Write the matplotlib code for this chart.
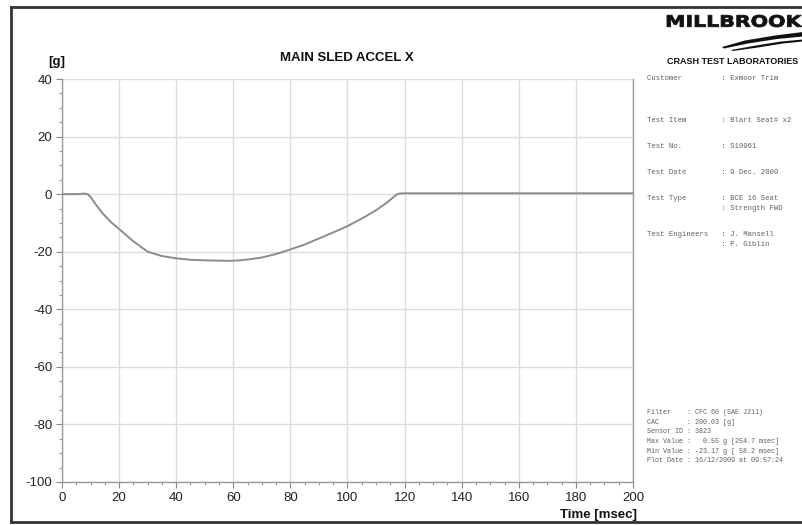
import matplotlib.pyplot as plt
from matplotlib.ticker import MultipleLocator
from matplotlib.textpath import TextPath
from matplotlib.patches import PathPatch, Polygon
from matplotlib.font_manager import FontProperties
from matplotlib.transforms import Affine2D
from matplotlib.lines import Line2D

plt.rcParams['font.family'] = ['Liberation Sans', 'DejaVu Sans']
plt.rcParams['axes.unicode_minus'] = False

# Curva de aceleracao do treno
tempo = [0, 5, 8, 9, 10, 12, 14, 17, 20, 25, 30, 35, 40, 45, 50, 55, 58.2,
         62, 66, 70, 75, 80, 85, 90, 95, 100, 105, 110, 114, 117, 118, 120,
         140, 160, 180, 200]
aceleracao = [0, 0, 0.2, 0, -1, -3.8, -6.4, -9.6, -12.1, -16.4, -20.0, -21.5,
              -22.3, -22.8, -23.0, -23.1, -23.17, -23.0, -22.6, -22.0, -20.8,
              -19.2, -17.5, -15.4, -13.3, -11.1, -8.5, -5.6, -2.8, -0.3, 0.2,
              0.3, 0.3, 0.3, 0.3, 0.3]

x_ticks = [0, 20, 40, 60, 80, 100, 120, 140, 160, 180, 200]
y_ticks = [40, 20, 0, -20, -40, -60, -80, -100]

info_topo = [
    ("Customer         : Exmoor Trim", 79),
    ("Test Item        : Blart Seat# x2", 121),
    ("Test No.         : S10961", 146),
    ("Test Date        : 9 Dec. 2009", 172),
    ("Test Type        : BCE 16 Seat", 198),
    ("                 : Strength FWD", 208),
    ("Test Engineers   : J. Mansell", 234),
    ("                 : P. Giblin", 244),
]

info_baixo = [
    "Filter    : CFC 60 (SAE J211)",
    "CAC       : 200.03 [g]",
    "Sensor ID : 3823",
    "Max Value :   0.55 g [254.7 msec]",
    "Min Value : -23.17 g [ 58.2 msec]",
    "Plot Date : 16/12/2009 at 09:57:24",
]

W, H = 803, 525


def px(x, y):
    # pixel (origem no topo) -> fracao da figura
    return x / W, 1 - y / H


fig = plt.figure(figsize=(W / 100, H / 100), dpi=100)
fig.patch.set_facecolor('white')

ax = fig.add_axes([62 / W, 1 - 482 / H, (633 - 62) / W, (482 - 79) / H])
ax.plot(tempo, aceleracao, color='#8c8c8c', lw=1.4, zorder=3)
ax.set_xlim(0, 200)
ax.set_ylim(-100, 40)
ax.set_xticks(x_ticks)
ax.set_yticks(y_ticks)
ax.xaxis.set_minor_locator(MultipleLocator(5))
ax.yaxis.set_minor_locator(MultipleLocator(5))
ax.grid(True, which='major', color='#dcdcdc', lw=1.0)
ax.tick_params(which='major', direction='out', length=4, width=0.8,
               color='#888888', labelsize=9.5, labelcolor='#222222', pad=3)
ax.tick_params(which='minor', direction='out', length=2.5, width=0.8,
               color='#999999')
ax.spines['top'].set_visible(False)
for lado in ['left', 'bottom', 'right']:
    ax.spines[lado].set_color('#999999')
    ax.spines[lado].set_linewidth(1.0)

fig.text(*px(347, 58), "MAIN SLED ACCEL X", ha='center', va='center',
         fontsize=9.5, fontweight='bold', color='#111111')
fig.text(*px(57, 62), "[g]", ha='center', va='center',
         fontsize=9.5, fontweight='bold', color='#111111')
fig.text(*px(637, 515), "Time [msec]", ha='right', va='center',
         fontsize=9.5, fontweight='bold', color='#111111')

# Moldura
for (xa, ya), (xb, yb) in [((11, 7), (803, 7)), ((11, 7), (11, 522)),
                           ((11, 522), (803, 522))]:
    x1, y1 = px(xa, ya)
    x2, y2 = px(xb, yb)
    fig.add_artist(Line2D([x1, x2], [y1, y2], transform=fig.transFigure,
                          color='#333333', lw=2.0))

# Logotipo
tp = TextPath((0, 0), "MILLBROOK", prop=FontProperties(family='DejaVu Sans',
                                                       weight='bold'))
bb = tp.get_extents()
x0, y0 = px(667, 27)
x1, y1 = px(802, 15)
trans = Affine2D().translate(-bb.x0, -bb.y0).scale(
    (x1 - x0) / bb.width, (y1 - y0) / bb.height).translate(x0, y0)
fig.add_artist(PathPatch(trans.transform_path(tp), transform=fig.transFigure,
                         facecolor='#111111', edgecolor='#111111', lw=0.6))

faixa1 = [(722, 47), (745, 40.5), (775, 35.5), (803, 32), (803, 36.5),
          (777, 39), (748, 43.5), (724, 48.5)]
faixa2 = [(731, 50), (756, 45.5), (781, 41.5), (803, 39.5), (803, 41.5),
          (783, 43.5), (758, 47.5), (733, 51)]
for faixa in [faixa1, faixa2]:
    fig.add_artist(Polygon([px(a, b) for a, b in faixa], closed=True,
                           transform=fig.transFigure, facecolor='#111111',
                           edgecolor='none'))

fig.text(*px(733, 62), "CRASH TEST LABORATORIES", ha='center', va='center',
         fontsize=6.5, fontweight='bold', color='#111111')

for linha, y in info_topo:
    fig.text(*px(647, y), linha, ha='left', va='center', fontsize=5.2,
             family='Liberation Mono', color='#606060')

for i, linha in enumerate(info_baixo):
    fig.text(*px(647, 412.5 + i * 9.7), linha, ha='left', va='center',
             fontsize=4.9, family='Liberation Mono', color='#606060')

fig.savefig("out.png", dpi=100)
